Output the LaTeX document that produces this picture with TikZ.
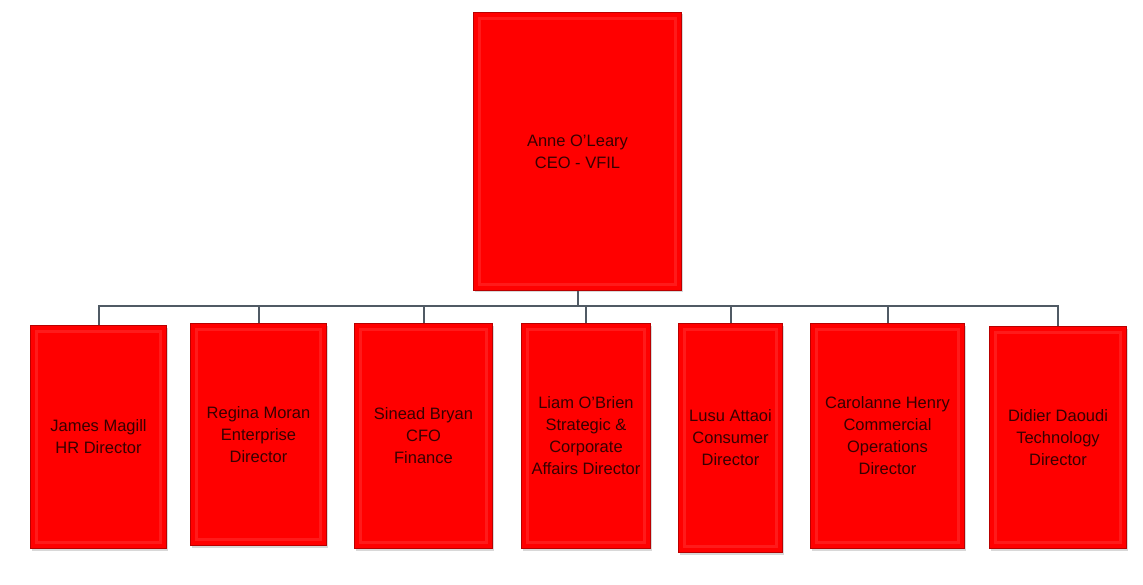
\documentclass[tikz,border=0pt]{standalone}
\usepackage{fontspec}
\setmainfont{Liberation Sans}
\usetikzlibrary{shadows}
\definecolor{boxred}{RGB}{255,0,0}
\definecolor{boxedge}{RGB}{185,0,0}
\definecolor{boxtext}{RGB}{55,0,0}
\definecolor{linkgray}{RGB}{80,90,100}
\tikzset{
  person/.style={draw=boxedge, line width=1pt, fill=boxred, anchor=north west,
    align=center, text=boxtext, inner sep=0pt,
    font=\fontsize{16.5}{22}\selectfont,
    drop shadow={shadow xshift=1.5pt, shadow yshift=-2pt, opacity=0.3, fill=gray},
    path picture={\draw[white, opacity=0.1, line width=3pt]
      ([shift={(6pt,-6pt)}]path picture bounding box.north west) rectangle
      ([shift={(-6pt,6pt)}]path picture bounding box.south east);}},
  link/.style={draw=linkgray, line width=2pt}
}
\begin{document}
\begin{tikzpicture}[x=1pt,y=1pt]
\useasboundingbox[fill=white] (0,0) rectangle (1143,-585);
\node[person, minimum width=208pt, minimum height=278pt] (ceo) at (473,-12) {Anne O'Leary\\CEO - VFIL};
\node[person, minimum width=136pt, minimum height=223pt] (c1) at (30,-325) {James Magill\\HR Director};
\node[person, minimum width=136pt, minimum height=222pt] (c2) at (190,-323) {Regina Moran\\Enterprise\\Director};
\node[person, minimum width=138pt, minimum height=225pt] (c3) at (354,-323) {Sinead Bryan\\CFO\\Finance};
\node[person, minimum width=129pt, minimum height=225pt] (c4) at (521,-323) {Liam O'Brien\\Strategic \&\\Corporate\\Affairs Director};
\node[person, minimum width=104pt, minimum height=229pt] (c5) at (678,-323) {Lusu Attaoi\\Consumer\\Director};
\node[person, minimum width=154pt, minimum height=225pt] (c6) at (810,-323) {Carolanne Henry\\Commercial\\Operations\\Director};
\node[person, minimum width=137pt, minimum height=222pt] (c7) at (989,-326) {Didier Daoudi\\Technology\\Director};
\coordinate (bar) at (0,-306);
\draw[link] (ceo.south) -- (ceo.south |- bar);
\draw[link] (c1.north) -- (c1.north |- bar) -- (c7.north |- bar) -- (c7.north);
\foreach \c in {c2,c3,c4,c5,c6} \draw[link] (\c.north) -- (\c.north |- bar);
\end{tikzpicture}
\end{document}
